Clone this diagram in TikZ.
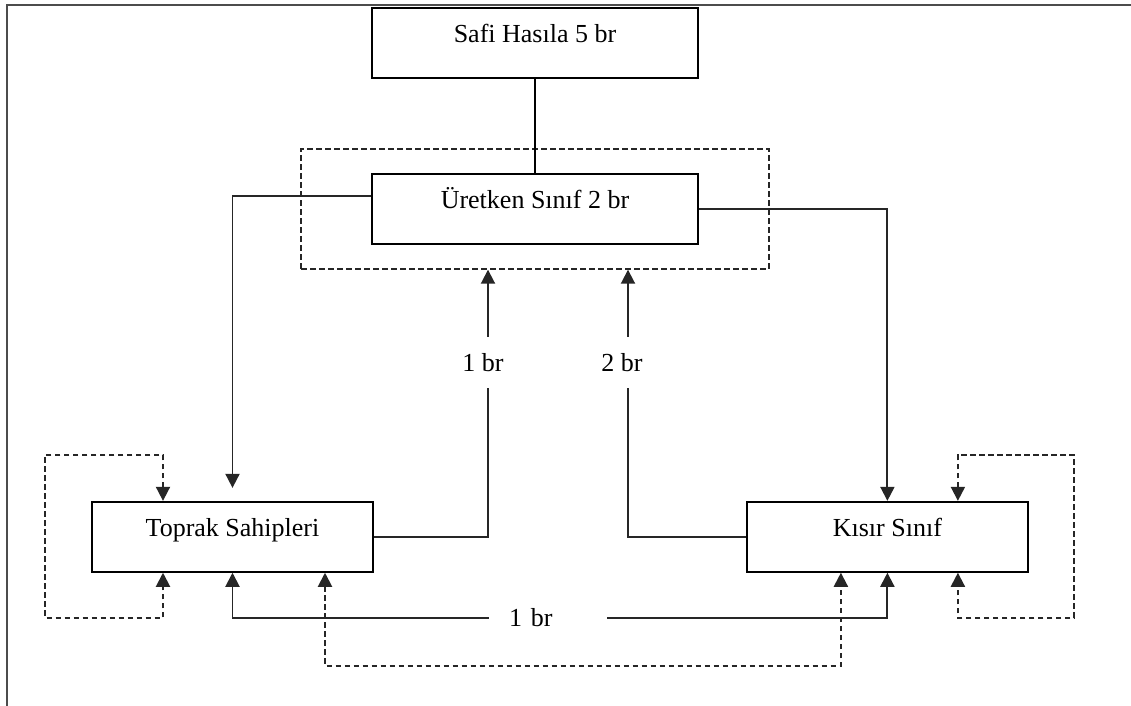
\documentclass[tikz,border=0pt]{standalone}
\usepackage{fontspec}
\setmainfont{Liberation Serif}
\usetikzlibrary{positioning,fit,arrows.meta}

\tikzset{
  box/.style={draw, line width=0.95pt, minimum height=35pt, text height=9pt, text depth=9pt, inner sep=2pt},
  wide/.style={box, minimum width=163pt},
  class/.style={box, minimum width=140.5pt},
  flow/.style={line width=0.95pt, black!85, ->},
  dflow/.style={flow, dash pattern=on 2.75pt off 1.75pt},
  amount/.style={fill=white, text=black, inner sep=1pt, minimum height=25.5pt},
}

\begin{document}
\begin{tikzpicture}[font=\fontsize{13}{15}\selectfont, node distance=47pt,
    >={Triangle[length=7pt,width=7pt]}]

    \useasboundingbox (0,0) rectangle (565.5pt,-353pt);
    \draw[line width=1.2pt, black!70] (3.5pt,-353pt) |- (565.5pt,-2.5pt);

    % Define nodes
    \node[wide] (safi) at (267.5pt,-21.5pt) {Safi Hasıla 5 br};
    \node[wide, below=of safi]                      (uretken) {Üretken Sınıf 2 br};
    \node[draw, line width=0.85pt, black!85, dash pattern=on 2.75pt off 1.75pt,
          fit=(uretken), inner xsep=35pt, inner ysep=12pt] (core) {};
    \node[class, below=128pt of uretken, xshift=-151.25pt] (toprak) {Toprak Sahipleri};
    \node[class, right=186pt of toprak]             (kisir) {Kısır Sınıf};

    % Connect the nodes
    \draw[line width=0.95pt] (safi) -- (uretken);
    \draw[flow] ([yshift=6.25pt]uretken.west) -| ([yshift=6.5pt]toprak.north);
    \draw[flow] (uretken.east) -| (kisir.north);

    \draw[flow] (toprak.east) -| node[amount, pos=0.827, xshift=-2.5pt] {1 br} ([xshift=-23.5pt]core.south);
    \draw[flow] (kisir.west) -| node[amount, pos=0.827, xshift=-3pt] {2 br} ([xshift=46.5pt]core.south);

    \draw[flow, <->] (toprak.south) -- ++(0,-22.5pt) -| node[pos=0.241, fill=white, text=black, inner xsep=0pt,
        text width=59pt, align=left] {\hspace*{10pt}1 br} (kisir.south);
    \draw[dflow, <->] ([xshift=46.25pt]toprak.south) -- ++(0,-46.5pt) -| ([xshift=-23.25pt]kisir.south);

    % Loops
    \draw[dflow, <->] ([xshift=-34.75pt]toprak.north) -- ++(0,23pt) -- ++(-59pt,0)
        -- ++(0,-81.5pt) -| ([xshift=-34.75pt]toprak.south);
    \draw[dflow, <->] ([xshift=35.25pt]kisir.north) -- ++(0,23pt) -- ++(58pt,0)
        -- ++(0,-81.5pt) -| ([xshift=35.25pt]kisir.south);

\end{tikzpicture}
\end{document}
